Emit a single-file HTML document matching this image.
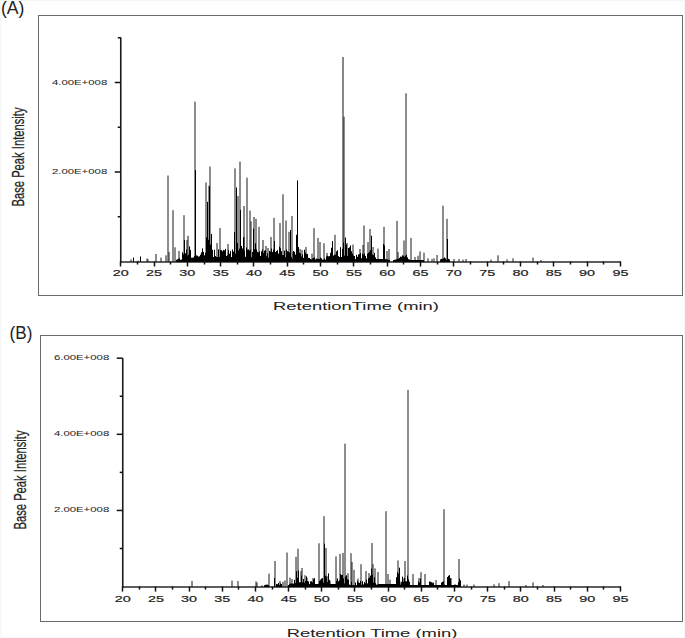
<!DOCTYPE html>
<html><head><meta charset="utf-8"><style>
html,body{margin:0;padding:0;background:#fff;width:685px;height:638px;overflow:hidden;font-family:"Liberation Sans", sans-serif}
</style></head><body>
<svg width="685" height="638" viewBox="0 0 685 638" style="position:absolute;left:0;top:0;font-family:'Liberation Sans', sans-serif">
<rect x="0" y="0" width="685" height="638" fill="#fff"/>
<rect x="0" y="0" width="685" height="1" fill="#f6f6f6"/><rect x="0" y="0" width="1.5" height="638" fill="#f7f7f7"/><rect x="684" y="0" width="1" height="638" fill="#f7f7f7"/><rect x="0" y="637" width="685" height="1" fill="#f9f9f9"/>
<rect x="38.5" y="15.5" width="644.0" height="280.0" fill="none" stroke="#6a6a6a" stroke-width="1"/>
<line x1="120.75" y1="261.9" x2="621.0" y2="261.9" stroke="#5e5e5e" stroke-width="2"/>
<line x1="131" y1="261.9" x2="131" y2="259.4" stroke="#1a1a1a" stroke-width="1"/>
<line x1="138" y1="261.9" x2="138" y2="260.6" stroke="#1a1a1a" stroke-width="1"/>
<line x1="147" y1="261.9" x2="147" y2="258.5" stroke="#1a1a1a" stroke-width="1"/>
<line x1="148" y1="261.9" x2="148" y2="259.4" stroke="#1a1a1a" stroke-width="1"/>
<line x1="156" y1="261.9" x2="156" y2="254.0" stroke="#1a1a1a" stroke-width="1"/>
<line x1="161" y1="261.9" x2="161" y2="257.6" stroke="#1a1a1a" stroke-width="1"/>
<line x1="166" y1="261.9" x2="166" y2="255.3" stroke="#1a1a1a" stroke-width="1"/>
<line x1="168" y1="261.9" x2="168" y2="175.5" stroke="#1a1a1a" stroke-width="1"/>
<line x1="169" y1="261.9" x2="169" y2="252.0" stroke="#1a1a1a" stroke-width="1"/>
<line x1="173" y1="261.9" x2="173" y2="210.2" stroke="#1a1a1a" stroke-width="1"/>
<line x1="175" y1="261.9" x2="175" y2="247.3" stroke="#1a1a1a" stroke-width="1"/>
<line x1="179" y1="261.9" x2="179" y2="251.0" stroke="#1a1a1a" stroke-width="1"/>
<line x1="184" y1="261.9" x2="184" y2="215.2" stroke="#1a1a1a" stroke-width="1"/>
<line x1="187" y1="261.9" x2="187" y2="240.0" stroke="#1a1a1a" stroke-width="1"/>
<line x1="188" y1="261.9" x2="188" y2="235.7" stroke="#1a1a1a" stroke-width="1"/>
<line x1="195" y1="261.9" x2="195" y2="101.6" stroke="#1a1a1a" stroke-width="1"/>
<line x1="206" y1="261.9" x2="206" y2="182.5" stroke="#1a1a1a" stroke-width="1"/>
<line x1="209" y1="261.9" x2="209" y2="185.7" stroke="#1a1a1a" stroke-width="1"/>
<line x1="210" y1="261.9" x2="210" y2="166.6" stroke="#1a1a1a" stroke-width="1"/>
<line x1="217" y1="261.9" x2="217" y2="243.0" stroke="#1a1a1a" stroke-width="1"/>
<line x1="220" y1="261.9" x2="220" y2="228.0" stroke="#1a1a1a" stroke-width="1"/>
<line x1="228" y1="261.9" x2="228" y2="244.0" stroke="#1a1a1a" stroke-width="1"/>
<line x1="235" y1="261.9" x2="235" y2="168.4" stroke="#1a1a1a" stroke-width="1"/>
<line x1="238" y1="261.9" x2="238" y2="196.0" stroke="#1a1a1a" stroke-width="1"/>
<line x1="240" y1="261.9" x2="240" y2="161.6" stroke="#1a1a1a" stroke-width="1"/>
<line x1="244" y1="261.9" x2="244" y2="237.0" stroke="#1a1a1a" stroke-width="1"/>
<line x1="244" y1="261.9" x2="244" y2="206.0" stroke="#1a1a1a" stroke-width="1"/>
<line x1="247" y1="261.9" x2="247" y2="177.7" stroke="#1a1a1a" stroke-width="1"/>
<line x1="250" y1="261.9" x2="250" y2="210.7" stroke="#1a1a1a" stroke-width="1"/>
<line x1="251" y1="261.9" x2="251" y2="221.4" stroke="#1a1a1a" stroke-width="1"/>
<line x1="254" y1="261.9" x2="254" y2="217.0" stroke="#1a1a1a" stroke-width="1"/>
<line x1="256" y1="261.9" x2="256" y2="218.8" stroke="#1a1a1a" stroke-width="1"/>
<line x1="259" y1="261.9" x2="259" y2="226.8" stroke="#1a1a1a" stroke-width="1"/>
<line x1="263" y1="261.9" x2="263" y2="240.0" stroke="#1a1a1a" stroke-width="1"/>
<line x1="266" y1="261.9" x2="266" y2="246.0" stroke="#1a1a1a" stroke-width="1"/>
<line x1="268" y1="261.9" x2="268" y2="248.0" stroke="#1a1a1a" stroke-width="1"/>
<line x1="271" y1="261.9" x2="271" y2="237.0" stroke="#1a1a1a" stroke-width="1"/>
<line x1="274" y1="261.9" x2="274" y2="217.9" stroke="#1a1a1a" stroke-width="1"/>
<line x1="280" y1="261.9" x2="280" y2="223.0" stroke="#1a1a1a" stroke-width="1"/>
<line x1="283" y1="261.9" x2="283" y2="194.3" stroke="#1a1a1a" stroke-width="1"/>
<line x1="286" y1="261.9" x2="286" y2="220.5" stroke="#1a1a1a" stroke-width="1"/>
<line x1="289" y1="261.9" x2="289" y2="231.8" stroke="#1a1a1a" stroke-width="1"/>
<line x1="292" y1="261.9" x2="292" y2="216.0" stroke="#1a1a1a" stroke-width="1"/>
<line x1="293" y1="261.9" x2="293" y2="252.7" stroke="#1a1a1a" stroke-width="1"/>
<line x1="300" y1="261.9" x2="300" y2="249.0" stroke="#1a1a1a" stroke-width="1"/>
<line x1="302" y1="261.9" x2="302" y2="250.0" stroke="#1a1a1a" stroke-width="1"/>
<line x1="306" y1="261.9" x2="306" y2="247.0" stroke="#1a1a1a" stroke-width="1"/>
<line x1="312" y1="261.9" x2="312" y2="253.6" stroke="#1a1a1a" stroke-width="1"/>
<line x1="314" y1="261.9" x2="314" y2="228.2" stroke="#1a1a1a" stroke-width="1"/>
<line x1="318" y1="261.9" x2="318" y2="237.9" stroke="#1a1a1a" stroke-width="1"/>
<line x1="320" y1="261.9" x2="320" y2="242.0" stroke="#1a1a1a" stroke-width="1"/>
<line x1="324" y1="261.9" x2="324" y2="243.2" stroke="#1a1a1a" stroke-width="1"/>
<line x1="327" y1="261.9" x2="327" y2="253.0" stroke="#1a1a1a" stroke-width="1"/>
<line x1="335" y1="261.9" x2="335" y2="234.8" stroke="#1a1a1a" stroke-width="1"/>
<line x1="343" y1="261.9" x2="343" y2="57.0" stroke="#111" stroke-width="1"/>
<line x1="344" y1="261.9" x2="344" y2="116.7" stroke="#1a1a1a" stroke-width="1"/>
<line x1="347" y1="261.9" x2="347" y2="243.0" stroke="#1a1a1a" stroke-width="1"/>
<line x1="353" y1="261.9" x2="353" y2="244.6" stroke="#1a1a1a" stroke-width="1"/>
<line x1="360" y1="261.9" x2="360" y2="249.0" stroke="#1a1a1a" stroke-width="1"/>
<line x1="363" y1="261.9" x2="363" y2="245.0" stroke="#1a1a1a" stroke-width="1"/>
<line x1="364" y1="261.9" x2="364" y2="225.4" stroke="#1a1a1a" stroke-width="1"/>
<line x1="368" y1="261.9" x2="368" y2="242.0" stroke="#1a1a1a" stroke-width="1"/>
<line x1="370" y1="261.9" x2="370" y2="229.0" stroke="#1a1a1a" stroke-width="1"/>
<line x1="373" y1="261.9" x2="373" y2="247.0" stroke="#1a1a1a" stroke-width="1"/>
<line x1="378" y1="261.9" x2="378" y2="248.6" stroke="#1a1a1a" stroke-width="1"/>
<line x1="384" y1="261.9" x2="384" y2="226.8" stroke="#1a1a1a" stroke-width="1"/>
<line x1="387" y1="261.9" x2="387" y2="251.0" stroke="#1a1a1a" stroke-width="1"/>
<line x1="389" y1="261.9" x2="389" y2="249.0" stroke="#1a1a1a" stroke-width="1"/>
<line x1="397" y1="261.9" x2="397" y2="220.9" stroke="#1a1a1a" stroke-width="1"/>
<line x1="398" y1="261.9" x2="398" y2="252.0" stroke="#1a1a1a" stroke-width="1"/>
<line x1="404" y1="261.9" x2="404" y2="240.5" stroke="#1a1a1a" stroke-width="1"/>
<line x1="406" y1="261.9" x2="406" y2="93.3" stroke="#1a1a1a" stroke-width="1"/>
<line x1="411" y1="261.9" x2="411" y2="238.0" stroke="#1a1a1a" stroke-width="1"/>
<line x1="415" y1="261.9" x2="415" y2="257.0" stroke="#1a1a1a" stroke-width="1"/>
<line x1="418" y1="261.9" x2="418" y2="255.7" stroke="#1a1a1a" stroke-width="1"/>
<line x1="420" y1="261.9" x2="420" y2="251.4" stroke="#1a1a1a" stroke-width="1"/>
<line x1="424" y1="261.9" x2="424" y2="252.7" stroke="#1a1a1a" stroke-width="1"/>
<line x1="428" y1="261.9" x2="428" y2="258.3" stroke="#1a1a1a" stroke-width="1"/>
<line x1="432" y1="261.9" x2="432" y2="259.0" stroke="#1a1a1a" stroke-width="1"/>
<line x1="434" y1="261.9" x2="434" y2="258.3" stroke="#1a1a1a" stroke-width="1"/>
<line x1="437" y1="261.9" x2="437" y2="255.0" stroke="#1a1a1a" stroke-width="1"/>
<line x1="443" y1="261.9" x2="443" y2="205.7" stroke="#1a1a1a" stroke-width="1"/>
<line x1="447" y1="261.9" x2="447" y2="218.8" stroke="#1a1a1a" stroke-width="1"/>
<line x1="454" y1="261.9" x2="454" y2="259.0" stroke="#1a1a1a" stroke-width="1"/>
<line x1="459" y1="261.9" x2="459" y2="259.0" stroke="#1a1a1a" stroke-width="1"/>
<line x1="463" y1="261.9" x2="463" y2="259.6" stroke="#1a1a1a" stroke-width="1"/>
<line x1="466" y1="261.9" x2="466" y2="259.0" stroke="#1a1a1a" stroke-width="1"/>
<line x1="491" y1="261.9" x2="491" y2="259.6" stroke="#1a1a1a" stroke-width="1"/>
<line x1="498" y1="261.9" x2="498" y2="255.3" stroke="#1a1a1a" stroke-width="1"/>
<line x1="507" y1="261.9" x2="507" y2="259.3" stroke="#1a1a1a" stroke-width="1"/>
<line x1="513" y1="261.9" x2="513" y2="258.3" stroke="#1a1a1a" stroke-width="1"/>
<line x1="533" y1="261.9" x2="533" y2="257.6" stroke="#1a1a1a" stroke-width="1"/>
<line x1="541" y1="261.9" x2="541" y2="260.0" stroke="#1a1a1a" stroke-width="1"/>
<path d="M176.5 261.9V259.8M177.5 261.9V259.2M178.5 261.9V258.6M179.5 261.9V258.3M180.5 261.9V259.8M181.5 261.9V259.5M182.5 261.9V252.4M183.5 261.9V254.3M184.5 261.9V254.1M185.5 261.9V253.3M186.5 261.9V249.4M187.5 261.9V255.7M188.5 261.9V254.7M189.5 261.9V246.4M190.5 261.9V249.9M191.5 261.9V257.7M192.5 261.9V257.7M193.5 261.9V257.5M194.5 261.9V256.0M195.5 261.9V259.1M196.5 261.9V255.4M197.5 261.9V255.7M198.5 261.9V256.6M199.5 261.9V256.3M200.5 261.9V254.6M201.5 261.9V252.3M202.5 261.9V248.4M203.5 261.9V251.9M204.5 261.9V255.3M205.5 261.9V252.9M206.5 261.9V237.5M207.5 261.9V234.4M208.5 261.9V239.8M209.5 261.9V238.5M210.5 261.9V244.6M211.5 261.9V247.6M212.5 261.9V249.8M213.5 261.9V257.0M214.5 261.9V249.8M215.5 261.9V256.1M216.5 261.9V256.9M217.5 261.9V257.0M218.5 261.9V249.4M219.5 261.9V257.0M220.5 261.9V249.9M221.5 261.9V250.2M222.5 261.9V251.4M223.5 261.9V249.9M224.5 261.9V250.3M225.5 261.9V248.9M226.5 261.9V255.9M227.5 261.9V255.3M228.5 261.9V249.9M229.5 261.9V253.7M230.5 261.9V250.9M231.5 261.9V257.0M232.5 261.9V249.5M233.5 261.9V251.5M234.5 261.9V246.2M235.5 261.9V253.7M236.5 261.9V257.0M237.5 261.9V243.0M238.5 261.9V250.4M239.5 261.9V248.5M240.5 261.9V242.9M241.5 261.9V246.0M242.5 261.9V248.5M243.5 261.9V257.0M244.5 261.9V250.5M245.5 261.9V256.8M246.5 261.9V247.5M247.5 261.9V249.7M248.5 261.9V249.5M249.5 261.9V250.6M250.5 261.9V249.8M251.5 261.9V257.3M252.5 261.9V251.9M253.5 261.9V252.7M254.5 261.9V249.2M255.5 261.9V243.3M256.5 261.9V249.3M257.5 261.9V251.8M258.5 261.9V252.4M259.5 261.9V251.2M260.5 261.9V255.9M261.5 261.9V251.3M262.5 261.9V249.3M263.5 261.9V252.9M264.5 261.9V250.7M265.5 261.9V250.2M266.5 261.9V256.2M267.5 261.9V253.3M268.5 261.9V257.8M269.5 261.9V250.9M270.5 261.9V251.6M271.5 261.9V248.5M272.5 261.9V251.9M273.5 261.9V249.4M274.5 261.9V252.7M275.5 261.9V252.1M276.5 261.9V251.0M277.5 261.9V250.2M278.5 261.9V253.5M279.5 261.9V246.6M280.5 261.9V248.2M281.5 261.9V251.2M282.5 261.9V254.9M283.5 261.9V255.1M284.5 261.9V250.6M285.5 261.9V257.3M286.5 261.9V249.5M287.5 261.9V251.2M288.5 261.9V251.6M289.5 261.9V252.5M290.5 261.9V254.0M291.5 261.9V257.0M292.5 261.9V259.0M293.5 261.9V251.0M294.5 261.9V251.8M295.5 261.9V254.6M296.5 261.9V243.0M297.5 261.9V246.3M298.5 261.9V247.0M299.5 261.9V252.8M300.5 261.9V253.4M301.5 261.9V256.4M302.5 261.9V254.5M303.5 261.9V257.9M304.5 261.9V249.7M305.5 261.9V252.6M306.5 261.9V254.2M307.5 261.9V253.9M308.5 261.9V257.8M309.5 261.9V258.0M310.5 261.9V259.0M311.5 261.9V259.4M312.5 261.9V258.4M313.5 261.9V257.9M314.5 261.9V257.2M315.5 261.9V259.3M316.5 261.9V258.5M317.5 261.9V258.8M318.5 261.9V258.7M319.5 261.9V259.0M320.5 261.9V257.6M321.5 261.9V258.4M322.5 261.9V259.6M323.5 261.9V259.8M324.5 261.9V258.4M325.5 261.9V259.7M326.5 261.9V256.5M327.5 261.9V255.8M328.5 261.9V256.4M329.5 261.9V256.0M330.5 261.9V252.8M331.5 261.9V247.8M332.5 261.9V256.2M333.5 261.9V255.6M334.5 261.9V254.6M335.5 261.9V254.5M336.5 261.9V251.3M337.5 261.9V250.2M338.5 261.9V256.1M339.5 261.9V257.0M340.5 261.9V247.2M341.5 261.9V257.0M342.5 261.9V248.8M343.5 261.9V242.5M344.5 261.9V255.7M345.5 261.9V237.6M346.5 261.9V244.5M347.5 261.9V256.0M348.5 261.9V248.0M349.5 261.9V247.3M350.5 261.9V246.3M351.5 261.9V251.2M352.5 261.9V253.5M353.5 261.9V255.6M354.5 261.9V256.0M355.5 261.9V259.1M356.5 261.9V254.8M357.5 261.9V256.8M358.5 261.9V254.4M359.5 261.9V254.3M360.5 261.9V253.1M361.5 261.9V258.2M362.5 261.9V253.7M363.5 261.9V255.1M364.5 261.9V253.4M365.5 261.9V255.9M366.5 261.9V258.4M367.5 261.9V253.8M368.5 261.9V252.8M369.5 261.9V251.8M370.5 261.9V250.0M371.5 261.9V251.0M372.5 261.9V254.5M373.5 261.9V255.2M374.5 261.9V252.9M375.5 261.9V257.4M376.5 261.9V259.0M377.5 261.9V259.0M378.5 261.9V259.0M379.5 261.9V259.0M380.5 261.9V259.0M381.5 261.9V259.0M382.5 261.9V259.0M383.5 261.9V243.9M384.5 261.9V257.0M385.5 261.9V259.1M386.5 261.9V259.3M387.5 261.9V259.5M388.5 261.9V259.7M389.5 261.9V259.9M393.5 261.9V260.1M394.5 261.9V259.8M395.5 261.9V259.6M396.5 261.9V259.3M397.5 261.9V259.1M398.5 261.9V258.7M399.5 261.9V257.9M400.5 261.9V256.6M401.5 261.9V256.8M402.5 261.9V255.3M403.5 261.9V255.8M404.5 261.9V256.9M405.5 261.9V255.6M406.5 261.9V256.1M407.5 261.9V257.3M408.5 261.9V259.1M409.5 261.9V259.6M410.5 261.9V260.0M411.5 261.9V260.0M412.5 261.9V260.0M413.5 261.9V260.0M414.5 261.9V260.0M415.5 261.9V260.0M416.5 261.9V260.0M417.5 261.9V260.0M418.5 261.9V260.0M419.5 261.9V260.0M420.5 261.9V260.0M421.5 261.9V260.0M422.5 261.9V260.1M423.5 261.9V260.1M440.5 261.9V259.4M441.5 261.9V258.9M442.5 261.9V258.7M443.5 261.9V258.5M444.5 261.9V257.4M445.5 261.9V258.4M446.5 261.9V259.9M447.5 261.9V257.4M448.5 261.9V258.8M449.5 261.9V259.5" stroke="#000" stroke-width="1" fill="none"/>
<line x1="133.5" y1="261.9" x2="133.5" y2="257.6" stroke="#000" stroke-width="1"/>
<line x1="140.5" y1="261.9" x2="140.5" y2="256.5" stroke="#000" stroke-width="1"/>
<line x1="184.5" y1="261.9" x2="184.5" y2="240.0" stroke="#000" stroke-width="1"/>
<line x1="195.5" y1="261.9" x2="195.5" y2="170.0" stroke="#000" stroke-width="1"/>
<line x1="207.5" y1="261.9" x2="207.5" y2="201.8" stroke="#000" stroke-width="1"/>
<line x1="209.5" y1="261.9" x2="209.5" y2="186.6" stroke="#000" stroke-width="1"/>
<line x1="211.5" y1="261.9" x2="211.5" y2="234.0" stroke="#000" stroke-width="1"/>
<line x1="234.5" y1="261.9" x2="234.5" y2="232.0" stroke="#000" stroke-width="1"/>
<line x1="236.5" y1="261.9" x2="236.5" y2="187.5" stroke="#000" stroke-width="1"/>
<line x1="240.5" y1="261.9" x2="240.5" y2="209.8" stroke="#000" stroke-width="1"/>
<line x1="243.5" y1="261.9" x2="243.5" y2="237.5" stroke="#000" stroke-width="1"/>
<line x1="253.5" y1="261.9" x2="253.5" y2="228.6" stroke="#000" stroke-width="1"/>
<line x1="274.5" y1="261.9" x2="274.5" y2="241.0" stroke="#000" stroke-width="1"/>
<line x1="290.5" y1="261.9" x2="290.5" y2="230.0" stroke="#000" stroke-width="1"/>
<line x1="296.5" y1="261.9" x2="296.5" y2="234.8" stroke="#000" stroke-width="1"/>
<line x1="297.5" y1="261.9" x2="297.5" y2="180.4" stroke="#000" stroke-width="1"/>
<line x1="332.5" y1="261.9" x2="332.5" y2="241.0" stroke="#000" stroke-width="1"/>
<line x1="343.5" y1="261.9" x2="343.5" y2="243.8" stroke="#000" stroke-width="1"/>
<line x1="350.5" y1="261.9" x2="350.5" y2="245.5" stroke="#000" stroke-width="1"/>
<line x1="371.5" y1="261.9" x2="371.5" y2="235.7" stroke="#000" stroke-width="1"/>
<line x1="384.5" y1="261.9" x2="384.5" y2="245.5" stroke="#000" stroke-width="1"/>
<line x1="406.5" y1="261.9" x2="406.5" y2="254.7" stroke="#000" stroke-width="1"/>
<line x1="447.5" y1="261.9" x2="447.5" y2="239.0" stroke="#000" stroke-width="1"/>
<line x1="120.75" y1="37.4" x2="120.75" y2="262.4" stroke="#1a1a1a" stroke-width="1.6"/>
<line x1="120.5" y1="261.5" x2="120.5" y2="266.5" stroke="#111" stroke-width="1.5"/>
<text transform="translate(120.75,276.3) scale(1.47,1)" text-anchor="middle" font-size="9.8" fill="#222" stroke="#222" stroke-width="0.2">20</text>
<line x1="137.5" y1="261.5" x2="137.5" y2="264.5" stroke="#111" stroke-width="1.5"/>
<line x1="154.5" y1="261.5" x2="154.5" y2="266.5" stroke="#111" stroke-width="1.5"/>
<text transform="translate(154.06,276.3) scale(1.47,1)" text-anchor="middle" font-size="9.8" fill="#222" stroke="#222" stroke-width="0.2">25</text>
<line x1="170.5" y1="261.5" x2="170.5" y2="264.5" stroke="#111" stroke-width="1.5"/>
<line x1="187.5" y1="261.5" x2="187.5" y2="266.5" stroke="#111" stroke-width="1.5"/>
<text transform="translate(187.37,276.3) scale(1.47,1)" text-anchor="middle" font-size="9.8" fill="#222" stroke="#222" stroke-width="0.2">30</text>
<line x1="204.5" y1="261.5" x2="204.5" y2="264.5" stroke="#111" stroke-width="1.5"/>
<line x1="220.5" y1="261.5" x2="220.5" y2="266.5" stroke="#111" stroke-width="1.5"/>
<text transform="translate(220.68,276.3) scale(1.47,1)" text-anchor="middle" font-size="9.8" fill="#222" stroke="#222" stroke-width="0.2">35</text>
<line x1="237.5" y1="261.5" x2="237.5" y2="264.5" stroke="#111" stroke-width="1.5"/>
<line x1="253.5" y1="261.5" x2="253.5" y2="266.5" stroke="#111" stroke-width="1.5"/>
<text transform="translate(253.99,276.3) scale(1.47,1)" text-anchor="middle" font-size="9.8" fill="#222" stroke="#222" stroke-width="0.2">40</text>
<line x1="270.5" y1="261.5" x2="270.5" y2="264.5" stroke="#111" stroke-width="1.5"/>
<line x1="287.5" y1="261.5" x2="287.5" y2="266.5" stroke="#111" stroke-width="1.5"/>
<text transform="translate(287.30,276.3) scale(1.47,1)" text-anchor="middle" font-size="9.8" fill="#222" stroke="#222" stroke-width="0.2">45</text>
<line x1="303.5" y1="261.5" x2="303.5" y2="264.5" stroke="#111" stroke-width="1.5"/>
<line x1="320.5" y1="261.5" x2="320.5" y2="266.5" stroke="#111" stroke-width="1.5"/>
<text transform="translate(320.61,276.3) scale(1.47,1)" text-anchor="middle" font-size="9.8" fill="#222" stroke="#222" stroke-width="0.2">50</text>
<line x1="337.5" y1="261.5" x2="337.5" y2="264.5" stroke="#111" stroke-width="1.5"/>
<line x1="353.5" y1="261.5" x2="353.5" y2="266.5" stroke="#111" stroke-width="1.5"/>
<text transform="translate(353.92,276.3) scale(1.47,1)" text-anchor="middle" font-size="9.8" fill="#222" stroke="#222" stroke-width="0.2">55</text>
<line x1="370.5" y1="261.5" x2="370.5" y2="264.5" stroke="#111" stroke-width="1.5"/>
<line x1="387.5" y1="261.5" x2="387.5" y2="266.5" stroke="#111" stroke-width="1.5"/>
<text transform="translate(387.23,276.3) scale(1.47,1)" text-anchor="middle" font-size="9.8" fill="#222" stroke="#222" stroke-width="0.2">60</text>
<line x1="403.5" y1="261.5" x2="403.5" y2="264.5" stroke="#111" stroke-width="1.5"/>
<line x1="420.5" y1="261.5" x2="420.5" y2="266.5" stroke="#111" stroke-width="1.5"/>
<text transform="translate(420.54,276.3) scale(1.47,1)" text-anchor="middle" font-size="9.8" fill="#222" stroke="#222" stroke-width="0.2">65</text>
<line x1="437.5" y1="261.5" x2="437.5" y2="264.5" stroke="#111" stroke-width="1.5"/>
<line x1="453.5" y1="261.5" x2="453.5" y2="266.5" stroke="#111" stroke-width="1.5"/>
<text transform="translate(453.85,276.3) scale(1.47,1)" text-anchor="middle" font-size="9.8" fill="#222" stroke="#222" stroke-width="0.2">70</text>
<line x1="470.5" y1="261.5" x2="470.5" y2="264.5" stroke="#111" stroke-width="1.5"/>
<line x1="487.5" y1="261.5" x2="487.5" y2="266.5" stroke="#111" stroke-width="1.5"/>
<text transform="translate(487.16,276.3) scale(1.47,1)" text-anchor="middle" font-size="9.8" fill="#222" stroke="#222" stroke-width="0.2">75</text>
<line x1="503.5" y1="261.5" x2="503.5" y2="264.5" stroke="#111" stroke-width="1.5"/>
<line x1="520.5" y1="261.5" x2="520.5" y2="266.5" stroke="#111" stroke-width="1.5"/>
<text transform="translate(520.47,276.3) scale(1.47,1)" text-anchor="middle" font-size="9.8" fill="#222" stroke="#222" stroke-width="0.2">80</text>
<line x1="537.5" y1="261.5" x2="537.5" y2="264.5" stroke="#111" stroke-width="1.5"/>
<line x1="553.5" y1="261.5" x2="553.5" y2="266.5" stroke="#111" stroke-width="1.5"/>
<text transform="translate(553.78,276.3) scale(1.47,1)" text-anchor="middle" font-size="9.8" fill="#222" stroke="#222" stroke-width="0.2">85</text>
<line x1="570.5" y1="261.5" x2="570.5" y2="264.5" stroke="#111" stroke-width="1.5"/>
<line x1="587.5" y1="261.5" x2="587.5" y2="266.5" stroke="#111" stroke-width="1.5"/>
<text transform="translate(587.09,276.3) scale(1.47,1)" text-anchor="middle" font-size="9.8" fill="#222" stroke="#222" stroke-width="0.2">90</text>
<line x1="603.5" y1="261.5" x2="603.5" y2="264.5" stroke="#111" stroke-width="1.5"/>
<line x1="620.5" y1="261.5" x2="620.5" y2="266.5" stroke="#111" stroke-width="1.5"/>
<text transform="translate(620.40,276.3) scale(1.47,1)" text-anchor="middle" font-size="9.8" fill="#222" stroke="#222" stroke-width="0.2">95</text>
<line x1="117.75" y1="216.75" x2="120.75" y2="216.75" stroke="#111" stroke-width="1.5"/>
<line x1="114.75" y1="172.00" x2="120.75" y2="172.00" stroke="#111" stroke-width="1.5"/>
<text transform="translate(107.25,174.00) scale(1.52,1)" text-anchor="end" font-size="7.5" fill="#2a2a2a" stroke="#2a2a2a" stroke-width="0.05">2.00E+008</text>
<line x1="117.75" y1="127.25" x2="120.75" y2="127.25" stroke="#111" stroke-width="1.5"/>
<line x1="114.75" y1="82.50" x2="120.75" y2="82.50" stroke="#111" stroke-width="1.5"/>
<text transform="translate(107.25,84.50) scale(1.52,1)" text-anchor="end" font-size="7.5" fill="#2a2a2a" stroke="#2a2a2a" stroke-width="0.05">4.00E+008</text>
<line x1="117.75" y1="37.75" x2="120.75" y2="37.75" stroke="#111" stroke-width="1.5"/>
<text transform="translate(356,310) scale(1.6,1)" text-anchor="middle" font-size="11.5" fill="#222">RetentionTime (min)</text>
<text transform="translate(24.2,157) rotate(-90) scale(0.668,1)" text-anchor="middle" font-size="16.8" fill="#222" stroke="#222" stroke-width="0.25">Base Peak Intensity</text>
<text transform="translate(0.9,14) scale(0.98,1)" font-size="18" fill="#222">(A)</text>
<rect x="40.5" y="335.5" width="642.0" height="286.0" fill="none" stroke="#6a6a6a" stroke-width="1"/>
<line x1="122.75" y1="587.0" x2="621.0" y2="587.0" stroke="#5e5e5e" stroke-width="2"/>
<line x1="192" y1="587.0" x2="192" y2="581.0" stroke="#1a1a1a" stroke-width="1"/>
<line x1="232" y1="587.0" x2="232" y2="580.6" stroke="#1a1a1a" stroke-width="1"/>
<line x1="238" y1="587.0" x2="238" y2="581.0" stroke="#1a1a1a" stroke-width="1"/>
<line x1="256" y1="587.0" x2="256" y2="581.5" stroke="#1a1a1a" stroke-width="1"/>
<line x1="257" y1="587.0" x2="257" y2="582.5" stroke="#1a1a1a" stroke-width="1"/>
<line x1="262" y1="587.0" x2="262" y2="585.3" stroke="#1a1a1a" stroke-width="1"/>
<line x1="267" y1="587.0" x2="267" y2="584.6" stroke="#1a1a1a" stroke-width="1"/>
<line x1="269" y1="587.0" x2="269" y2="573.6" stroke="#1a1a1a" stroke-width="1"/>
<line x1="275" y1="587.0" x2="275" y2="561.0" stroke="#1a1a1a" stroke-width="1"/>
<line x1="278" y1="587.0" x2="278" y2="584.0" stroke="#1a1a1a" stroke-width="1"/>
<line x1="280" y1="587.0" x2="280" y2="581.0" stroke="#1a1a1a" stroke-width="1"/>
<line x1="283" y1="587.0" x2="283" y2="581.8" stroke="#1a1a1a" stroke-width="1"/>
<line x1="285" y1="587.0" x2="285" y2="580.4" stroke="#1a1a1a" stroke-width="1"/>
<line x1="287" y1="587.0" x2="287" y2="552.5" stroke="#1a1a1a" stroke-width="1"/>
<line x1="290" y1="587.0" x2="290" y2="577.6" stroke="#1a1a1a" stroke-width="1"/>
<line x1="292" y1="587.0" x2="292" y2="579.0" stroke="#1a1a1a" stroke-width="1"/>
<line x1="296" y1="587.0" x2="296" y2="556.8" stroke="#1a1a1a" stroke-width="1"/>
<line x1="298" y1="587.0" x2="298" y2="548.7" stroke="#1a1a1a" stroke-width="1"/>
<line x1="301" y1="587.0" x2="301" y2="571.2" stroke="#1a1a1a" stroke-width="1"/>
<line x1="302" y1="587.0" x2="302" y2="568.0" stroke="#1a1a1a" stroke-width="1"/>
<line x1="305" y1="587.0" x2="305" y2="575.2" stroke="#1a1a1a" stroke-width="1"/>
<line x1="307" y1="587.0" x2="307" y2="578.0" stroke="#1a1a1a" stroke-width="1"/>
<line x1="313" y1="587.0" x2="313" y2="578.0" stroke="#1a1a1a" stroke-width="1"/>
<line x1="319" y1="587.0" x2="319" y2="543.3" stroke="#1a1a1a" stroke-width="1"/>
<line x1="321" y1="587.0" x2="321" y2="579.0" stroke="#1a1a1a" stroke-width="1"/>
<line x1="324" y1="587.0" x2="324" y2="516.2" stroke="#1a1a1a" stroke-width="1"/>
<line x1="326" y1="587.0" x2="326" y2="548.0" stroke="#1a1a1a" stroke-width="1"/>
<line x1="327" y1="587.0" x2="327" y2="576.0" stroke="#1a1a1a" stroke-width="1"/>
<line x1="330" y1="587.0" x2="330" y2="580.8" stroke="#1a1a1a" stroke-width="1"/>
<line x1="336" y1="587.0" x2="336" y2="556.4" stroke="#1a1a1a" stroke-width="1"/>
<line x1="340" y1="587.0" x2="340" y2="553.9" stroke="#1a1a1a" stroke-width="1"/>
<line x1="343" y1="587.0" x2="343" y2="552.9" stroke="#1a1a1a" stroke-width="1"/>
<line x1="345" y1="587.0" x2="345" y2="443.6" stroke="#1a1a1a" stroke-width="1"/>
<line x1="348" y1="587.0" x2="348" y2="573.3" stroke="#1a1a1a" stroke-width="1"/>
<line x1="351" y1="587.0" x2="351" y2="553.2" stroke="#1a1a1a" stroke-width="1"/>
<line x1="352" y1="587.0" x2="352" y2="562.0" stroke="#1a1a1a" stroke-width="1"/>
<line x1="354" y1="587.0" x2="354" y2="569.8" stroke="#1a1a1a" stroke-width="1"/>
<line x1="358" y1="587.0" x2="358" y2="578.7" stroke="#1a1a1a" stroke-width="1"/>
<line x1="361" y1="587.0" x2="361" y2="564.2" stroke="#1a1a1a" stroke-width="1"/>
<line x1="366" y1="587.0" x2="366" y2="571.0" stroke="#1a1a1a" stroke-width="1"/>
<line x1="369" y1="587.0" x2="369" y2="573.0" stroke="#1a1a1a" stroke-width="1"/>
<line x1="372" y1="587.0" x2="372" y2="543.0" stroke="#1a1a1a" stroke-width="1"/>
<line x1="373" y1="587.0" x2="373" y2="564.2" stroke="#1a1a1a" stroke-width="1"/>
<line x1="375" y1="587.0" x2="375" y2="568.4" stroke="#1a1a1a" stroke-width="1"/>
<line x1="378" y1="587.0" x2="378" y2="572.0" stroke="#1a1a1a" stroke-width="1"/>
<line x1="386" y1="587.0" x2="386" y2="511.2" stroke="#1a1a1a" stroke-width="1"/>
<line x1="388" y1="587.0" x2="388" y2="574.0" stroke="#1a1a1a" stroke-width="1"/>
<line x1="390" y1="587.0" x2="390" y2="579.7" stroke="#1a1a1a" stroke-width="1"/>
<line x1="398" y1="587.0" x2="398" y2="560.4" stroke="#1a1a1a" stroke-width="1"/>
<line x1="401" y1="587.0" x2="401" y2="581.5" stroke="#1a1a1a" stroke-width="1"/>
<line x1="404" y1="587.0" x2="404" y2="578.3" stroke="#1a1a1a" stroke-width="1"/>
<line x1="405" y1="587.0" x2="405" y2="561.0" stroke="#1a1a1a" stroke-width="1"/>
<line x1="408" y1="587.0" x2="408" y2="389.9" stroke="#1a1a1a" stroke-width="1"/>
<line x1="413" y1="587.0" x2="413" y2="574.0" stroke="#1a1a1a" stroke-width="1"/>
<line x1="419" y1="587.0" x2="419" y2="578.0" stroke="#1a1a1a" stroke-width="1"/>
<line x1="421" y1="587.0" x2="421" y2="572.2" stroke="#1a1a1a" stroke-width="1"/>
<line x1="425" y1="587.0" x2="425" y2="574.0" stroke="#1a1a1a" stroke-width="1"/>
<line x1="432" y1="587.0" x2="432" y2="582.0" stroke="#1a1a1a" stroke-width="1"/>
<line x1="436" y1="587.0" x2="436" y2="580.0" stroke="#1a1a1a" stroke-width="1"/>
<line x1="444" y1="587.0" x2="444" y2="509.2" stroke="#1a1a1a" stroke-width="1"/>
<line x1="450" y1="587.0" x2="450" y2="578.3" stroke="#1a1a1a" stroke-width="1"/>
<line x1="451" y1="587.0" x2="451" y2="578.0" stroke="#1a1a1a" stroke-width="1"/>
<line x1="455" y1="587.0" x2="455" y2="584.2" stroke="#1a1a1a" stroke-width="1"/>
<line x1="459" y1="587.0" x2="459" y2="559.0" stroke="#1a1a1a" stroke-width="1"/>
<line x1="464" y1="587.0" x2="464" y2="584.6" stroke="#1a1a1a" stroke-width="1"/>
<line x1="467" y1="587.0" x2="467" y2="584.6" stroke="#1a1a1a" stroke-width="1"/>
<line x1="474" y1="587.0" x2="474" y2="584.6" stroke="#1a1a1a" stroke-width="1"/>
<line x1="494" y1="587.0" x2="494" y2="584.4" stroke="#1a1a1a" stroke-width="1"/>
<line x1="499" y1="587.0" x2="499" y2="583.2" stroke="#1a1a1a" stroke-width="1"/>
<line x1="509" y1="587.0" x2="509" y2="581.1" stroke="#1a1a1a" stroke-width="1"/>
<line x1="526" y1="587.0" x2="526" y2="585.0" stroke="#1a1a1a" stroke-width="1"/>
<line x1="533" y1="587.0" x2="533" y2="582.4" stroke="#1a1a1a" stroke-width="1"/>
<line x1="543" y1="587.0" x2="543" y2="585.0" stroke="#1a1a1a" stroke-width="1"/>
<path d="M264.5 587.0V585.2M265.5 587.0V584.8M266.5 587.0V584.8M267.5 587.0V584.8M268.5 587.0V585.1M276.5 587.0V584.1M277.5 587.0V584.4M278.5 587.0V583.1M279.5 587.0V585.2M280.5 587.0V583.5M281.5 587.0V584.0M288.5 587.0V585.0M289.5 587.0V583.8M290.5 587.0V583.6M291.5 587.0V583.6M292.5 587.0V583.6M293.5 587.0V583.6M294.5 587.0V579.8M295.5 587.0V583.1M296.5 587.0V571.2M297.5 587.0V577.7M298.5 587.0V576.8M299.5 587.0V582.3M300.5 587.0V582.3M301.5 587.0V575.8M302.5 587.0V582.3M303.5 587.0V579.0M304.5 587.0V582.8M305.5 587.0V581.0M306.5 587.0V576.4M307.5 587.0V581.1M308.5 587.0V581.4M309.5 587.0V584.1M310.5 587.0V581.4M311.5 587.0V581.3M312.5 587.0V582.4M313.5 587.0V579.4M314.5 587.0V578.2M315.5 587.0V584.0M316.5 587.0V584.0M317.5 587.0V584.0M318.5 587.0V583.8M319.5 587.0V580.9M320.5 587.0V580.3M321.5 587.0V578.7M322.5 587.0V578.1M323.5 587.0V582.7M324.5 587.0V582.3M325.5 587.0V575.6M326.5 587.0V577.4M327.5 587.0V582.1M328.5 587.0V573.4M329.5 587.0V579.9M330.5 587.0V584.0M331.5 587.0V584.0M332.5 587.0V584.0M333.5 587.0V584.0M334.5 587.0V584.0M335.5 587.0V584.0M336.5 587.0V580.9M337.5 587.0V578.4M338.5 587.0V581.2M339.5 587.0V580.3M340.5 587.0V578.5M341.5 587.0V574.9M342.5 587.0V575.0M343.5 587.0V578.3M344.5 587.0V583.4M345.5 587.0V576.5M346.5 587.0V575.3M347.5 587.0V579.3M348.5 587.0V579.8M349.5 587.0V584.6M350.5 587.0V585.0M351.5 587.0V581.9M352.5 587.0V585.1M353.5 587.0V585.2M354.5 587.0V585.2M355.5 587.0V582.5M356.5 587.0V585.1M357.5 587.0V580.8M358.5 587.0V582.4M359.5 587.0V582.9M360.5 587.0V581.0M361.5 587.0V584.8M362.5 587.0V581.2M363.5 587.0V584.4M364.5 587.0V582.1M365.5 587.0V583.3M366.5 587.0V579.6M367.5 587.0V583.4M368.5 587.0V578.3M369.5 587.0V577.7M370.5 587.0V575.6M371.5 587.0V568.6M372.5 587.0V574.7M373.5 587.0V582.5M374.5 587.0V577.4M375.5 587.0V583.2M376.5 587.0V584.6M377.5 587.0V584.6M378.5 587.0V584.0M379.5 587.0V584.0M380.5 587.0V584.0M381.5 587.0V584.0M382.5 587.0V584.0M383.5 587.0V584.0M384.5 587.0V584.0M385.5 587.0V584.0M386.5 587.0V584.0M387.5 587.0V584.0M388.5 587.0V584.0M389.5 587.0V584.0M390.5 587.0V584.0M391.5 587.0V584.0M392.5 587.0V584.0M393.5 587.0V584.0M394.5 587.0V584.0M395.5 587.0V584.0M396.5 587.0V577.1M397.5 587.0V572.1M398.5 587.0V573.7M399.5 587.0V578.0M400.5 587.0V584.6M401.5 587.0V582.4M402.5 587.0V576.6M403.5 587.0V581.7M404.5 587.0V577.8M405.5 587.0V581.2M406.5 587.0V581.4M407.5 587.0V578.5M408.5 587.0V579.3M409.5 587.0V581.7M410.5 587.0V585.0M411.5 587.0V585.0M412.5 587.0V585.0M413.5 587.0V585.0M414.5 587.0V585.0M415.5 587.0V585.0M416.5 587.0V585.0M417.5 587.0V585.0M418.5 587.0V581.4M419.5 587.0V582.7M420.5 587.0V578.6M421.5 587.0V585.0M422.5 587.0V585.0M423.5 587.0V585.0M424.5 587.0V585.0M425.5 587.0V585.0M426.5 587.0V585.0M427.5 587.0V585.0M428.5 587.0V585.0M429.5 587.0V581.5M430.5 587.0V581.7M431.5 587.0V582.4M432.5 587.0V583.3M433.5 587.0V582.8M434.5 587.0V585.0M435.5 587.0V585.0M436.5 587.0V585.0M437.5 587.0V585.0M438.5 587.0V585.0M439.5 587.0V585.0M440.5 587.0V585.0M441.5 587.0V582.6M442.5 587.0V581.8M443.5 587.0V581.3M444.5 587.0V584.6M445.5 587.0V585.0M446.5 587.0V585.0M447.5 587.0V577.0M448.5 587.0V575.8M449.5 587.0V575.1M450.5 587.0V578.5M451.5 587.0V585.0M452.5 587.0V585.0M453.5 587.0V585.0M454.5 587.0V585.0M455.5 587.0V585.0M456.5 587.0V585.0M457.5 587.0V585.0M458.5 587.0V582.2M459.5 587.0V578.7M460.5 587.0V580.3" stroke="#000" stroke-width="1" fill="none"/>
<line x1="274.5" y1="587.0" x2="274.5" y2="578.0" stroke="#000" stroke-width="1"/>
<line x1="298.5" y1="587.0" x2="298.5" y2="570.5" stroke="#000" stroke-width="1"/>
<line x1="324.5" y1="587.0" x2="324.5" y2="543.7" stroke="#000" stroke-width="1"/>
<line x1="340.5" y1="587.0" x2="340.5" y2="574.0" stroke="#000" stroke-width="1"/>
<line x1="371.5" y1="587.0" x2="371.5" y2="573.0" stroke="#000" stroke-width="1"/>
<line x1="399.5" y1="587.0" x2="399.5" y2="567.7" stroke="#000" stroke-width="1"/>
<line x1="407.5" y1="587.0" x2="407.5" y2="575.5" stroke="#000" stroke-width="1"/>
<line x1="448.5" y1="587.0" x2="448.5" y2="576.6" stroke="#000" stroke-width="1"/>
<line x1="459.5" y1="587.0" x2="459.5" y2="580.0" stroke="#000" stroke-width="1"/>
<line x1="122.75" y1="358.2" x2="122.75" y2="587.5" stroke="#1a1a1a" stroke-width="1.6"/>
<line x1="122.5" y1="586.6" x2="122.5" y2="591.6" stroke="#111" stroke-width="1.5"/>
<text transform="translate(122.75,602.2) scale(1.47,1)" text-anchor="middle" font-size="9.8" fill="#222" stroke="#222" stroke-width="0.2">20</text>
<line x1="139.5" y1="586.6" x2="139.5" y2="589.6" stroke="#111" stroke-width="1.5"/>
<line x1="155.5" y1="586.6" x2="155.5" y2="591.6" stroke="#111" stroke-width="1.5"/>
<text transform="translate(155.93,602.2) scale(1.47,1)" text-anchor="middle" font-size="9.8" fill="#222" stroke="#222" stroke-width="0.2">25</text>
<line x1="172.5" y1="586.6" x2="172.5" y2="589.6" stroke="#111" stroke-width="1.5"/>
<line x1="189.5" y1="586.6" x2="189.5" y2="591.6" stroke="#111" stroke-width="1.5"/>
<text transform="translate(189.10,602.2) scale(1.47,1)" text-anchor="middle" font-size="9.8" fill="#222" stroke="#222" stroke-width="0.2">30</text>
<line x1="205.5" y1="586.6" x2="205.5" y2="589.6" stroke="#111" stroke-width="1.5"/>
<line x1="222.5" y1="586.6" x2="222.5" y2="591.6" stroke="#111" stroke-width="1.5"/>
<text transform="translate(222.28,602.2) scale(1.47,1)" text-anchor="middle" font-size="9.8" fill="#222" stroke="#222" stroke-width="0.2">35</text>
<line x1="238.5" y1="586.6" x2="238.5" y2="589.6" stroke="#111" stroke-width="1.5"/>
<line x1="255.5" y1="586.6" x2="255.5" y2="591.6" stroke="#111" stroke-width="1.5"/>
<text transform="translate(255.46,602.2) scale(1.47,1)" text-anchor="middle" font-size="9.8" fill="#222" stroke="#222" stroke-width="0.2">40</text>
<line x1="272.5" y1="586.6" x2="272.5" y2="589.6" stroke="#111" stroke-width="1.5"/>
<line x1="288.5" y1="586.6" x2="288.5" y2="591.6" stroke="#111" stroke-width="1.5"/>
<text transform="translate(288.63,602.2) scale(1.47,1)" text-anchor="middle" font-size="9.8" fill="#222" stroke="#222" stroke-width="0.2">45</text>
<line x1="305.5" y1="586.6" x2="305.5" y2="589.6" stroke="#111" stroke-width="1.5"/>
<line x1="321.5" y1="586.6" x2="321.5" y2="591.6" stroke="#111" stroke-width="1.5"/>
<text transform="translate(321.81,602.2) scale(1.47,1)" text-anchor="middle" font-size="9.8" fill="#222" stroke="#222" stroke-width="0.2">50</text>
<line x1="338.5" y1="586.6" x2="338.5" y2="589.6" stroke="#111" stroke-width="1.5"/>
<line x1="354.5" y1="586.6" x2="354.5" y2="591.6" stroke="#111" stroke-width="1.5"/>
<text transform="translate(354.99,602.2) scale(1.47,1)" text-anchor="middle" font-size="9.8" fill="#222" stroke="#222" stroke-width="0.2">55</text>
<line x1="371.5" y1="586.6" x2="371.5" y2="589.6" stroke="#111" stroke-width="1.5"/>
<line x1="388.5" y1="586.6" x2="388.5" y2="591.6" stroke="#111" stroke-width="1.5"/>
<text transform="translate(388.16,602.2) scale(1.47,1)" text-anchor="middle" font-size="9.8" fill="#222" stroke="#222" stroke-width="0.2">60</text>
<line x1="404.5" y1="586.6" x2="404.5" y2="589.6" stroke="#111" stroke-width="1.5"/>
<line x1="421.5" y1="586.6" x2="421.5" y2="591.6" stroke="#111" stroke-width="1.5"/>
<text transform="translate(421.34,602.2) scale(1.47,1)" text-anchor="middle" font-size="9.8" fill="#222" stroke="#222" stroke-width="0.2">65</text>
<line x1="437.5" y1="586.6" x2="437.5" y2="589.6" stroke="#111" stroke-width="1.5"/>
<line x1="454.5" y1="586.6" x2="454.5" y2="591.6" stroke="#111" stroke-width="1.5"/>
<text transform="translate(454.52,602.2) scale(1.47,1)" text-anchor="middle" font-size="9.8" fill="#222" stroke="#222" stroke-width="0.2">70</text>
<line x1="471.5" y1="586.6" x2="471.5" y2="589.6" stroke="#111" stroke-width="1.5"/>
<line x1="487.5" y1="586.6" x2="487.5" y2="591.6" stroke="#111" stroke-width="1.5"/>
<text transform="translate(487.69,602.2) scale(1.47,1)" text-anchor="middle" font-size="9.8" fill="#222" stroke="#222" stroke-width="0.2">75</text>
<line x1="504.5" y1="586.6" x2="504.5" y2="589.6" stroke="#111" stroke-width="1.5"/>
<line x1="520.5" y1="586.6" x2="520.5" y2="591.6" stroke="#111" stroke-width="1.5"/>
<text transform="translate(520.87,602.2) scale(1.47,1)" text-anchor="middle" font-size="9.8" fill="#222" stroke="#222" stroke-width="0.2">80</text>
<line x1="537.5" y1="586.6" x2="537.5" y2="589.6" stroke="#111" stroke-width="1.5"/>
<line x1="554.5" y1="586.6" x2="554.5" y2="591.6" stroke="#111" stroke-width="1.5"/>
<text transform="translate(554.05,602.2) scale(1.47,1)" text-anchor="middle" font-size="9.8" fill="#222" stroke="#222" stroke-width="0.2">85</text>
<line x1="570.5" y1="586.6" x2="570.5" y2="589.6" stroke="#111" stroke-width="1.5"/>
<line x1="587.5" y1="586.6" x2="587.5" y2="591.6" stroke="#111" stroke-width="1.5"/>
<text transform="translate(587.22,602.2) scale(1.47,1)" text-anchor="middle" font-size="9.8" fill="#222" stroke="#222" stroke-width="0.2">90</text>
<line x1="603.5" y1="586.6" x2="603.5" y2="589.6" stroke="#111" stroke-width="1.5"/>
<line x1="620.5" y1="586.6" x2="620.5" y2="591.6" stroke="#111" stroke-width="1.5"/>
<text transform="translate(620.40,602.2) scale(1.47,1)" text-anchor="middle" font-size="9.8" fill="#222" stroke="#222" stroke-width="0.2">95</text>
<line x1="119.75" y1="548.53" x2="122.75" y2="548.53" stroke="#111" stroke-width="1.5"/>
<line x1="116.75" y1="510.46" x2="122.75" y2="510.46" stroke="#111" stroke-width="1.5"/>
<text transform="translate(109.25,512.46) scale(1.52,1)" text-anchor="end" font-size="7.5" fill="#2a2a2a" stroke="#2a2a2a" stroke-width="0.05">2.00E+008</text>
<line x1="119.75" y1="472.39" x2="122.75" y2="472.39" stroke="#111" stroke-width="1.5"/>
<line x1="116.75" y1="434.32" x2="122.75" y2="434.32" stroke="#111" stroke-width="1.5"/>
<text transform="translate(109.25,436.32) scale(1.52,1)" text-anchor="end" font-size="7.5" fill="#2a2a2a" stroke="#2a2a2a" stroke-width="0.05">4.00E+008</text>
<line x1="119.75" y1="396.25" x2="122.75" y2="396.25" stroke="#111" stroke-width="1.5"/>
<line x1="116.75" y1="358.18" x2="122.75" y2="358.18" stroke="#111" stroke-width="1.5"/>
<text transform="translate(109.25,360.18) scale(1.52,1)" text-anchor="end" font-size="7.5" fill="#2a2a2a" stroke="#2a2a2a" stroke-width="0.05">6.00E+008</text>
<text transform="translate(372,636.6) scale(1.6,1)" text-anchor="middle" font-size="11.5" fill="#222">Retention Time (min)</text>
<text transform="translate(26.2,480) rotate(-90) scale(0.668,1)" text-anchor="middle" font-size="16.8" fill="#222" stroke="#222" stroke-width="0.25">Base Peak Intensity</text>
<text transform="translate(9.6,339) scale(0.95,1)" font-size="18" fill="#222">(B)</text>
</svg>
</body></html>
